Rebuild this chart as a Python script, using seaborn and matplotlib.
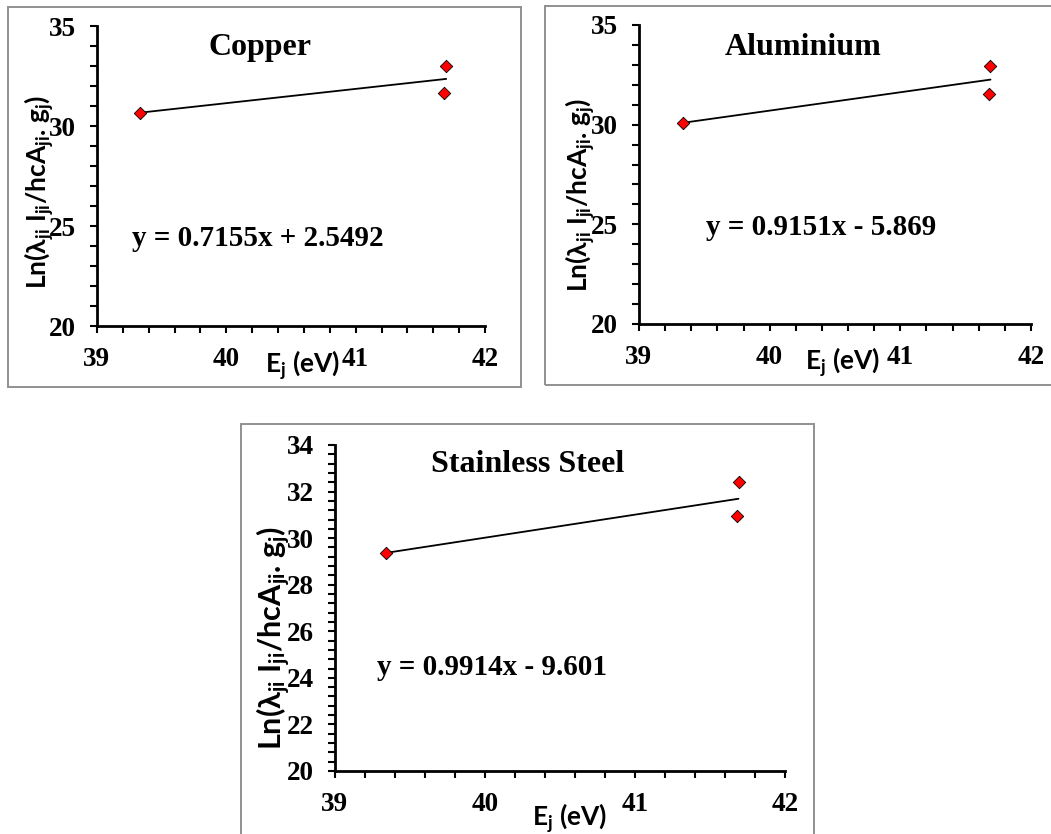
import matplotlib
matplotlib.use('Agg')
import matplotlib.pyplot as plt
from matplotlib.patches import Rectangle
from matplotlib.ticker import MultipleLocator
import seaborn as sns
import pandas as pd

# ---------------- data ----------------
copper_x = [39.33, 41.70, 41.68]
copper_y = [30.67, 33.02, 31.67]

alu_x = [39.34, 41.69, 41.68]
alu_y = [30.10, 32.96, 31.55]

steel_x = [39.34, 41.69, 41.68]
steel_y = [29.37, 32.42, 30.95]

titles = ['Copper', 'Aluminium', 'Stainless Steel']
equations = ['y = 0.7155x + 2.5492', 'y = 0.9151x - 5.869', 'y = 0.9914x - 9.601']
y_limits = [(20, 35), (20, 35), (20, 34)]
y_major = [5, 5, 2]
y_minor = [1, 1, 0.4]
x_limits = (39, 42)
x_major = 1
x_minor = 0.2

ylabel_text = 'Ln(λ$_{ji}$ I$_{ji}$/hcA$_{ji}$. g$_{j}$)'
xlabel_text = 'E$_{j}$ (eV)'

# ---------------- style ----------------
sns.set_style('ticks')
plt.rcParams.update({
    'font.family': ['Liberation Serif', 'DejaVu Serif'],
    'font.weight': 'bold',
    'mathtext.fontset': 'custom',
    'mathtext.rm': 'Lato:bold',
    'mathtext.it': 'Lato:bold',
    'mathtext.bf': 'Lato:bold',
    'mathtext.sf': 'Lato:bold',
    'axes.edgecolor': 'black',
    'axes.labelcolor': 'black',
    'text.color': 'black',
    'xtick.color': 'black',
    'ytick.color': 'black',
    'xtick.labelcolor': 'black',
    'ytick.labelcolor': 'black',
})

W, H = 1051, 834
fig = plt.figure(figsize=(W / 100, H / 100), dpi=100)
fig.patch.set_facecolor('white')


def px_rect(x0, y0, x1, y1):
    return [x0 / W, 1 - y1 / H, (x1 - x0) / W, (y1 - y0) / H]


layout = [
    dict(ax=(97, 26, 485, 326), box=(8, 7, 521, 387),
         title=(0.42, 0.927), eq=(0.415, 0.293),
         ylab=(-0.150, 0.447), ylab_size=19, xlab=(0.531, -0.13)),
    dict(ax=(639, 25, 1031, 324), box=(545, 6, 1062, 385),
         title=(0.418, 0.926), eq=(0.464, 0.324),
         ylab=(-0.150, 0.431), ylab_size=19, xlab=(0.52, -0.127)),
    dict(ax=(335, 445, 785, 771), box=(241, 424, 814, 845),
         title=(0.427, 0.939), eq=(0.349, 0.319),
         ylab=(-0.137, 0.408), ylab_size=22, xlab=(0.522, -0.144)),
]

datasets = [(copper_x, copper_y), (alu_x, alu_y), (steel_x, steel_y)]

for i, (xs, ys) in enumerate(datasets):
    L = layout[i]
    # panel frame
    bx0, by0, bx1, by1 = L['box']
    fig.add_artist(Rectangle(((bx0) / W, 1 - by1 / H), (bx1 - bx0) / W, (by1 - by0) / H,
                             transform=fig.transFigure, fill=False,
                             edgecolor='#909090', linewidth=1.4))

    ax = fig.add_axes(px_rect(*L['ax']))
    ax.set_facecolor('none')
    df = pd.DataFrame({'E': xs, 'L': ys})
    sns.regplot(data=df, x='E', y='L', ax=ax, ci=None, scatter=False, truncate=True,
                line_kws=dict(color='black', linewidth=1.3))
    sns.scatterplot(data=df, x='E', y='L', ax=ax, marker='D', s=40, color='#FF0000',
                    edgecolor='black', linewidth=0.6, zorder=3)

    ax.set_xlim(*x_limits)
    ax.set_ylim(*y_limits[i])
    ax.xaxis.set_major_locator(MultipleLocator(x_major))
    ax.xaxis.set_minor_locator(MultipleLocator(x_minor))
    ax.yaxis.set_major_locator(MultipleLocator(y_major[i]))
    ax.yaxis.set_minor_locator(MultipleLocator(y_minor[i]))

    sns.despine(ax=ax)
    for s in ('left', 'bottom'):
        ax.spines[s].set_linewidth(2.0)
    ax.tick_params(which='both', direction='out', length=5, width=1.5,
                   pad=10, labelsize=19.5, colors='black')
    for lbl in ax.get_xticklabels() + ax.get_yticklabels():
        lbl.set_fontweight('bold')

    ax.set_ylabel(ylabel_text, fontsize=L['ylab_size'], family=['Lato', 'DejaVu Sans'],
                  fontweight='bold', va='center', color='black')
    ax.yaxis.set_label_coords(*L['ylab'])
    ax.set_xlabel(xlabel_text, fontsize=19, family=['Lato', 'DejaVu Sans'],
                  fontweight='bold', va='center', color='black')
    ax.xaxis.set_label_coords(*L['xlab'])

    ax.text(*L['title'], titles[i], transform=ax.transAxes, ha='center', va='center',
            fontsize=23, fontweight='bold', color='black')
    ax.text(*L['eq'], equations[i], transform=ax.transAxes, ha='center', va='center',
            fontsize=21, fontweight='bold', color='black')

fig.savefig('out.png', dpi=100, facecolor='white')
